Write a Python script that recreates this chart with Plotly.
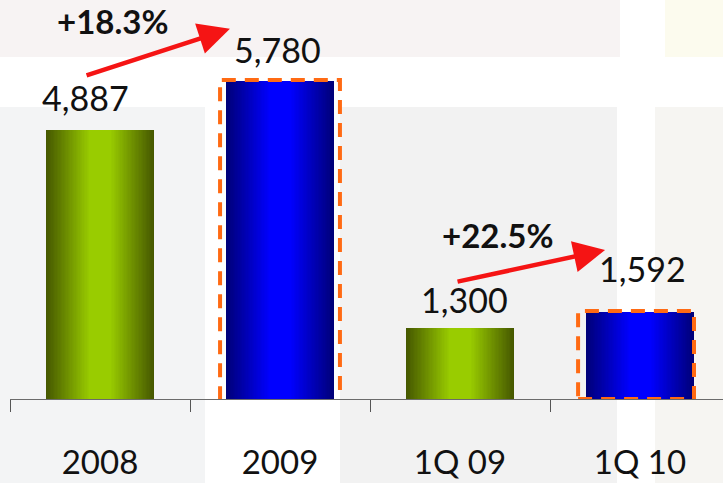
import plotly.graph_objects as go

# Data
categories = ["2008", "2009", "1Q 09", "1Q 10"]
values = [4887, 5780, 1300, 1592]
series_colors = ["green", "blue", "green", "blue"]

# Growth comparisons: (from index, to index)
growth_pairs = [(0, 1), (2, 3)]

# Gradient endpoints for each colour family (edge, centre)
gradients = {
    "green": ((0x46, 0x58, 0x00), (0x99, 0xCC, 0x00)),
    "blue": ((0x00, 0x00, 0x78), (0x00, 0x00, 0xFF)),
}

W, H = 723, 483
L_MARGIN, B_MARGIN = 10, 84
PLOT_H = H - B_MARGIN
Y_MAX = 7260
BAR_W = 0.6
N_LAYERS = 40
FONT = "Lato"


def shade(family, f):
    """Colour at normalised distance f from the bar centre (0 centre, 1 edge)."""
    edge, centre = gradients[family]
    t = min(max((f - 0.2) / 0.8, 0.0), 1.0)
    c = [round(centre[i] + (edge[i] - centre[i]) * t) for i in range(3)]
    return "rgb({},{},{})".format(*c)


fig = go.Figure()

# Cylinder-style shading: stacked, progressively narrower bars
for k in range(N_LAYERS):
    f = 1 - k / N_LAYERS
    fig.add_trace(go.Bar(
        x=categories,
        y=values,
        width=[BAR_W * f] * len(values),
        marker=dict(color=[shade(s, f) for s in series_colors], line=dict(width=0)),
        showlegend=False,
        hoverinfo="skip",
    ))

px_per_unit = PLOT_H / Y_MAX


def to_y(py):
    return (PLOT_H - py) / px_per_unit


annotations = []

# Value labels above bars (x given as category index)
label_shift = [(-15, 10), (-3, 9), (4, 6), (2, 21)]
for i, v in enumerate(values):
    dx, dy = label_shift[i]
    annotations.append(dict(
        x=i, y=v, xref="x", yref="y", text=f"{v:,}", showarrow=False,
        yanchor="bottom", xanchor="center", xshift=dx, yshift=dy,
        font=dict(family=FONT, size=34, color="#111111"),
    ))

# Growth arrows and percentages
arrow_geom = [
    dict(tail=(-0.083, 5879), head=(0.722, 6735), text=(0.067, 6871)),
    dict(tail=(1.978, 2130), head=(2.806, 2712), text=(2.208, 2985)),
]
for (a, b), g in zip(growth_pairs, arrow_geom):
    pct = (values[b] / values[a] - 1) * 100
    annotations.append(dict(
        x=g["head"][0], y=g["head"][1], ax=g["tail"][0], ay=g["tail"][1],
        xref="x", yref="y", axref="x", ayref="y", text="",
        showarrow=True, arrowhead=2, arrowsize=1.4, arrowwidth=4.5,
        arrowcolor="#f51414", standoff=0,
    ))
    annotations.append(dict(
        x=g["text"][0], y=g["text"][1], xref="x", yref="y",
        text=f"<b>+{pct:.1f}%</b>", showarrow=False,
        xanchor="center", yanchor="middle",
        font=dict(family=FONT, size=33, color="#111111"),
    ))

shapes = []

# Faint photographic backdrop tiles (paper coordinates from pixel boxes)
plot_w = 713


def paper_box(x0, y0, x1, y1):
    return dict(
        x0=(x0 - L_MARGIN) / plot_w, x1=(x1 - L_MARGIN) / plot_w,
        y0=(PLOT_H - y1) / PLOT_H, y1=(PLOT_H - y0) / PLOT_H,
    )


backdrop = [
    ((0, 0, 620, 57), "#f7f3f3"),
    ((665, 0, 723, 57), "#fcfbee"),
    ((0, 107, 205, 483), "#f3f4f5"),
    ((340, 107, 617, 483), "#f2f2f2"),
    ((655, 107, 723, 483), "#f6f5f2"),
]
for box, col in backdrop:
    shapes.append(dict(type="rect", xref="paper", yref="paper", layer="below",
                       fillcolor=col, line=dict(width=0), **paper_box(*box)))

# Dashed highlight frames around the current-period bars
frames = [
    dict(idx=1, x0=0.667, x1=1.333, y0=to_y(408), y1=to_y(80)),
    dict(idx=3, x0=2.656, x1=3.300, y0=to_y(399), y1=to_y(311)),
]
for fr in frames:
    shapes.append(dict(
        type="rect", xref="x", yref="y", layer="above",
        x0=fr["x0"], x1=fr["x1"], y0=fr["y0"], y1=fr["y1"],
        line=dict(color="#ff6a13", width=4, dash="14px,9px"),
        fillcolor="rgba(0,0,0,0)",
    ))

fig.update_layout(
    width=W, height=H,
    margin=dict(l=L_MARGIN, r=0, t=0, b=B_MARGIN, pad=0, autoexpand=False),
    barmode="overlay",
    bargap=0,
    paper_bgcolor="white",
    plot_bgcolor="rgba(0,0,0,0)",
    showlegend=False,
    annotations=annotations,
    shapes=shapes,
    xaxis=dict(
        type="category",
        automargin=False,
        range=[-0.5, -0.5 + plot_w / 180],
        showline=True, linecolor="#6b6b6b", linewidth=1,
        ticks="outside", tickson="boundaries", ticklen=12,
        tickcolor="#555555", tickwidth=1,
        showgrid=False, zeroline=False,
        tickfont=dict(family=FONT, size=33, color="#111111"),
        ticklabelstandoff=34,
    ),
    yaxis=dict(
        range=[0, Y_MAX], visible=False, showgrid=False, zeroline=False,
    ),
)

fig.write_html("out.html")
